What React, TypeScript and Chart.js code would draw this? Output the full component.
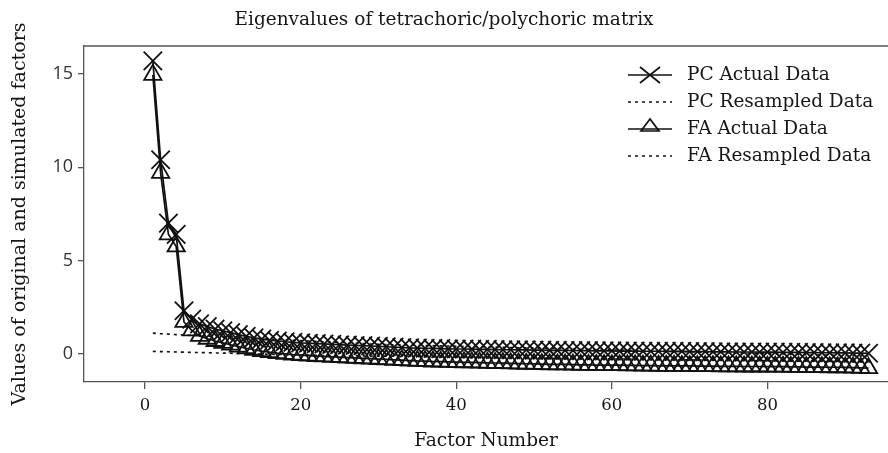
import React, { useEffect, useRef } from 'react';
import { Chart, registerables } from 'chart.js';

Chart.register(...registerables);

const TITLE = 'Eigenvalues of tetrachoric/polychoric matrix';
const X_TITLE = 'Factor Number';
const Y_TITLE = 'Values of original and simulated factors';
const xTicks = [0, 20, 40, 60, 80];
const yTicks = [0, 5, 10, 15];
const seriesNames = ['PC Actual Data', 'PC Resampled Data', 'FA Actual Data', 'FA Resampled Data'];

const pcActual = [
  15.7, 10.4, 7.0, 6.4, 2.3, 1.85, 1.6, 1.45, 1.32, 1.22,
  1.13, 1.02, 0.93, 0.85, 0.78, 0.72, 0.68, 0.64, 0.61, 0.58,
  0.56, 0.54, 0.52, 0.50, 0.48, 0.46, 0.44, 0.43, 0.41, 0.39,
  0.37, 0.35, 0.33, 0.31, 0.30, 0.29, 0.28, 0.27, 0.26, 0.25,
  0.25, 0.24, 0.23, 0.23, 0.22, 0.21, 0.21, 0.20, 0.20, 0.19,
  0.19, 0.18, 0.18, 0.17, 0.17, 0.16, 0.16, 0.15, 0.15, 0.15,
  0.14, 0.14, 0.14, 0.13, 0.13, 0.13, 0.12, 0.12, 0.12, 0.11,
  0.11, 0.11, 0.10, 0.10, 0.10, 0.09, 0.09, 0.09, 0.08, 0.08,
  0.08, 0.07, 0.07, 0.07, 0.06, 0.06, 0.05, 0.05, 0.04, 0.04,
  0.03, 0.03, 0.02,
];

const pcResampled = [
  1.10, 1.07, 1.05, 1.02, 1.00, 0.98, 0.96, 0.94, 0.92, 0.90,
  0.88, 0.86, 0.84, 0.82, 0.80, 0.78, 0.76, 0.74, 0.72, 0.70,
  0.68, 0.66, 0.64, 0.62, 0.60, 0.58, 0.56, 0.54, 0.52, 0.50,
  0.49, 0.48, 0.47, 0.46, 0.45, 0.44, 0.43, 0.42, 0.41, 0.40,
  0.39, 0.38, 0.37, 0.36, 0.35, 0.34, 0.33, 0.32, 0.31, 0.30,
  0.29, 0.28, 0.27, 0.26, 0.25, 0.24, 0.23, 0.22, 0.21, 0.20,
  0.19, 0.18, 0.17, 0.16, 0.15, 0.14, 0.13, 0.12, 0.11, 0.10,
  0.09, 0.08, 0.07, 0.06, 0.05, 0.04, 0.03, 0.02, 0.01, 0.00,
  -0.01, -0.02, -0.03, -0.04, -0.05, -0.06, -0.07, -0.08, -0.09, -0.10,
  -0.11, -0.12, -0.13,
];

const faActual = [
  14.95, 9.7, 6.4, 5.75, 1.7, 1.25, 0.95, 0.8, 0.68, 0.58,
  0.48, 0.38, 0.29, 0.21, 0.14, 0.08, 0.03, -0.01, -0.05, -0.08,
  -0.11, -0.13, -0.15, -0.17, -0.19, -0.21, -0.23, -0.25, -0.27, -0.29,
  -0.31, -0.33, -0.35, -0.37, -0.39, -0.40, -0.42, -0.43, -0.44, -0.45,
  -0.46, -0.47, -0.48, -0.49, -0.50, -0.51, -0.52, -0.53, -0.54, -0.55,
  -0.56, -0.57, -0.58, -0.58, -0.59, -0.60, -0.60, -0.61, -0.61, -0.62,
  -0.62, -0.63, -0.63, -0.64, -0.64, -0.65, -0.65, -0.65, -0.66, -0.66,
  -0.67, -0.67, -0.67, -0.68, -0.68, -0.68, -0.69, -0.69, -0.69, -0.70,
  -0.70, -0.70, -0.71, -0.71, -0.72, -0.72, -0.72, -0.73, -0.73, -0.74,
  -0.75, -0.76, -0.78,
];

const faResampled = [
  0.12, 0.11, 0.10, 0.09, 0.08, 0.07, 0.06, 0.05, 0.04, 0.03,
  0.02, 0.01, 0.00, -0.01, -0.02, -0.03, -0.04, -0.05, -0.06, -0.07,
  -0.08, -0.09, -0.10, -0.10, -0.11, -0.11, -0.12, -0.12, -0.13, -0.13,
  -0.14, -0.14, -0.15, -0.15, -0.16, -0.16, -0.17, -0.17, -0.18, -0.18,
  -0.19, -0.19, -0.20, -0.20, -0.21, -0.21, -0.22, -0.22, -0.23, -0.23,
  -0.24, -0.24, -0.25, -0.25, -0.26, -0.26, -0.27, -0.27, -0.28, -0.28,
  -0.29, -0.29, -0.30, -0.30, -0.31, -0.31, -0.32, -0.32, -0.33, -0.33,
  -0.34, -0.34, -0.35, -0.35, -0.36, -0.36, -0.37, -0.37, -0.38, -0.38,
  -0.39, -0.39, -0.40, -0.40, -0.41, -0.41, -0.42, -0.42, -0.43, -0.43,
  -0.44, -0.44, -0.45,
];

const toPoints = (arr: number[]) => arr.map((v, i) => ({ x: i + 1, y: v }));

const SERIF = '"DejaVu Serif", serif';
const TEXT = '#161616';
const AXIS = '#555';
const INK = '#111';

const framePlugin = {
  id: 'frameTop',
  afterDraw(chart: any) {
    const { ctx, chartArea } = chart;
    ctx.save();
    ctx.strokeStyle = AXIS;
    ctx.lineWidth = 1.3;
    ctx.beginPath();
    ctx.moveTo(chartArea.left, chartArea.top);
    ctx.lineTo(chartArea.right, chartArea.top);
    ctx.stroke();
    ctx.restore();
  },
};

const legendPlugin = {
  id: 'insideLegend',
  afterDraw(chart: any) {
    const { ctx, chartArea } = chart;
    ctx.save();
    const x0 = chartArea.left + 544;
    const x1 = x0 + 44;
    const xm = (x0 + x1) / 2;
    const tx = x1 + 15;
    const y0 = chartArea.top + 29;
    const step = 27;
    ctx.font = '18.5px ' + SERIF;
    ctx.textBaseline = 'middle';
    ctx.textAlign = 'left';
    seriesNames.forEach((name, i) => {
      const y = y0 + i * step;
      ctx.strokeStyle = INK;
      ctx.lineWidth = 1.7;
      ctx.setLineDash(i % 2 === 1 ? [3, 4] : []);
      ctx.beginPath();
      ctx.moveTo(x0, y);
      ctx.lineTo(x1, y);
      ctx.stroke();
      ctx.setLineDash([]);
      if (i === 0) {
        ctx.beginPath();
        ctx.moveTo(xm - 10, y - 8);
        ctx.lineTo(xm + 10, y + 8);
        ctx.moveTo(xm - 10, y + 8);
        ctx.lineTo(xm + 10, y - 8);
        ctx.stroke();
      } else if (i === 2) {
        ctx.beginPath();
        ctx.moveTo(xm, y - 10);
        ctx.lineTo(xm - 9, y + 2);
        ctx.lineTo(xm + 9, y + 2);
        ctx.closePath();
        ctx.stroke();
      }
      ctx.fillStyle = TEXT;
      ctx.fillText(name, tx, y);
    });
    ctx.restore();
  },
};

export default function App() {
  const ref = useRef<HTMLCanvasElement | null>(null);

  useEffect(() => {
    document.body.style.margin = '0';
    const canvas = ref.current;
    if (!canvas) return;
    const chart = new Chart(canvas, {
      type: 'line',
      data: {
        datasets: [
          {
            label: seriesNames[0],
            data: toPoints(pcActual),
            borderColor: INK,
            borderWidth: 1.7,
            pointStyle: 'crossRot',
            pointRadius: 13,
            pointBorderWidth: 1.8,
            pointBorderColor: INK,
            pointBackgroundColor: 'rgba(0,0,0,0)',
            tension: 0,
            order: 0,
          },
          {
            label: seriesNames[1],
            data: toPoints(pcResampled),
            borderColor: INK,
            borderWidth: 1.6,
            borderDash: [3, 4],
            pointRadius: 0,
            tension: 0,
            order: 3,
          },
          {
            label: seriesNames[2],
            data: toPoints(faActual),
            borderColor: INK,
            borderWidth: 1.7,
            pointStyle: 'triangle',
            pointRadius: 10,
            pointBorderWidth: 1.8,
            pointBorderColor: INK,
            pointBackgroundColor: 'rgba(0,0,0,0)',
            tension: 0,
            order: 1,
          },
          {
            label: seriesNames[3],
            data: toPoints(faResampled),
            borderColor: INK,
            borderWidth: 1.6,
            borderDash: [3, 4],
            pointRadius: 0,
            tension: 0,
            order: 3,
          },
        ],
      },
      options: {
        responsive: false,
        animation: false,
        layout: { autoPadding: false, padding: { left: 0, right: 0, top: 0, bottom: 0 } },
        plugins: {
          legend: { display: false },
          tooltip: { enabled: false },
          title: {
            display: true,
            text: TITLE,
            color: TEXT,
            font: { family: SERIF, size: 18.5, weight: 'normal', lineHeight: 1.2 },
            padding: { top: 9, bottom: 14.8 },
          },
        },
        scales: {
          x: {
            type: 'linear',
            min: -7.85,
            max: 95.5,
            afterBuildTicks: (scale: any) => {
              scale.ticks = xTicks.map((v) => ({ value: v }));
            },
            afterFit: (scale: any) => {
              scale.height = 71;
            },
            grid: { display: true, drawOnChartArea: false, drawTicks: true, tickLength: 7, color: AXIS, lineWidth: 1.3 },
            border: { display: true, color: AXIS, width: 1.3 },
            ticks: { color: TEXT, font: { family: SERIF, size: 16.5 }, padding: 7, maxRotation: 0 },
            title: {
              display: true,
              text: X_TITLE,
              color: TEXT,
              font: { family: SERIF, size: 18.5 },
              padding: { top: 0, bottom: 1 },
            },
          },
          y: {
            type: 'linear',
            min: -1.52,
            max: 16.5,
            afterBuildTicks: (scale: any) => {
              scale.ticks = yTicks.map((v) => ({ value: v }));
            },
            afterFit: (scale: any) => {
              scale.width = 84;
            },
            grid: { display: true, drawOnChartArea: false, drawTicks: true, tickLength: 6, color: AXIS, lineWidth: 1.3 },
            border: { display: true, color: AXIS, width: 1.3 },
            ticks: { color: '#333', font: { family: '"Open Sans", sans-serif', size: 18 }, padding: 5 },
            title: {
              display: true,
              text: Y_TITLE,
              color: TEXT,
              font: { family: SERIF, size: 19 },
              padding: { top: 8.5, bottom: 0 },
            },
          },
        },
      },
      plugins: [framePlugin, legendPlugin],
    });
    return () => chart.destroy();
  }, []);

  return (
    <div style={{ width: 888, height: 453 }}>
      <canvas ref={ref} width={888} height={453} style={{ display: 'block', width: 888, height: 453 }} />
    </div>
  );
}
